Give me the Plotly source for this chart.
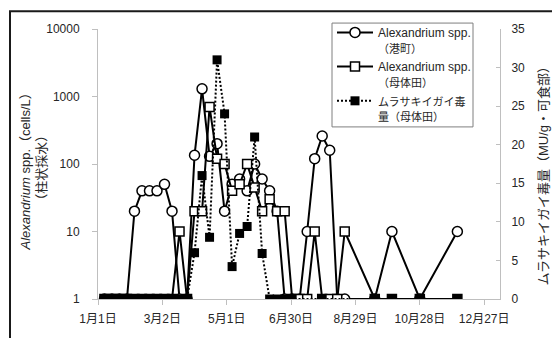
import plotly.graph_objects as go

# Alexandrium spp. cell density, 港町 (cells/L, 0 shown at the axis floor of 1)
minato_dates = ["2013-01-07", "2013-01-14", "2013-01-21", "2013-01-28", "2013-02-04",
                "2013-02-11", "2013-02-18", "2013-02-25", "2013-03-04", "2013-03-11",
                "2013-03-18", "2013-03-25", "2013-04-01", "2013-04-08", "2013-04-15",
                "2013-04-22", "2013-04-29", "2013-05-06", "2013-05-13", "2013-05-20",
                "2013-05-27", "2013-06-03", "2013-06-10", "2013-06-17", "2013-06-24",
                "2013-07-01", "2013-07-08", "2013-07-15", "2013-07-22", "2013-07-29",
                "2013-08-05", "2013-08-12", "2013-08-19", "2013-09-16", "2013-10-02",
                "2013-10-28", "2013-12-02"]
minato_cells = [1, 1, 1, 1, 20,
                40, 40, 40, 50, 20,
                1, 1, 135, 1300, 130,
                200, 20, 50, 60, 40,
                100, 60, 40, 20, 1,
                1, 1, 10, 120, 260,
                160, 1, 1, 1, 10,
                1, 10]

# Alexandrium spp. cell density, 母体田
motaita_dates = ["2013-01-07", "2013-01-14", "2013-01-21", "2013-01-28", "2013-02-04",
                 "2013-02-11", "2013-02-18", "2013-02-25", "2013-03-04", "2013-03-11",
                 "2013-03-18", "2013-03-25", "2013-04-01", "2013-04-08", "2013-04-15",
                 "2013-04-22", "2013-04-29", "2013-05-06", "2013-05-13", "2013-05-20",
                 "2013-05-27", "2013-06-03", "2013-06-10", "2013-06-17", "2013-06-24",
                 "2013-07-01", "2013-07-08", "2013-07-15", "2013-07-22", "2013-07-29",
                 "2013-08-05", "2013-08-12", "2013-08-19", "2013-09-16", "2013-10-02",
                 "2013-10-28", "2013-12-02"]
motaita_cells = [1, 1, 1, 1, 1,
                 1, 1, 1, 1, 1,
                 10, 1, 20, 20, 700,
                 120, 100, 40, 50, 100,
                 45, 20, 30, 20, 20,
                 1, 1, 1, 10, 1,
                 1, 1, 10, 1, 1,
                 1, 1]

# Mussel toxicity, 母体田 (MU/g edible part)
toxin_dates = ["2013-01-07", "2013-01-14", "2013-01-21", "2013-01-28", "2013-02-04",
               "2013-02-11", "2013-02-18", "2013-02-25", "2013-03-04", "2013-03-11",
               "2013-03-18", "2013-03-25", "2013-04-01", "2013-04-08", "2013-04-15",
               "2013-04-22", "2013-04-29", "2013-05-06", "2013-05-13", "2013-05-20",
               "2013-05-27", "2013-06-03", "2013-06-10", "2013-06-17", "2013-06-24",
               "2013-07-01", "2013-07-29", "2013-09-16", "2013-10-02", "2013-10-28",
               "2013-12-02"]
toxin_mu = [0, 0, 0, 0, 0,
            0, 0, 0, 0, 0,
            0, 0, 6, 16, 8,
            31, 24, 4.2, 8.5, 9.4,
            21, 5.9, 0, 0, 0,
            0, 0, 0, 0, 0,
            0]

tick_dates = ["2013-01-01", "2013-03-02", "2013-05-01", "2013-06-30",
              "2013-08-29", "2013-10-28", "2013-12-27"]
tick_labels = ["1月1日", "3月2日", "5月1日", "6月30日", "8月29日", "10月28日", "12月27日"]

cell_ticks = [1, 10, 100, 1000, 10000]
cell_tick_labels = ["1", "10", "100", "1000", "10000"]
toxin_ticks = [0, 5, 10, 15, 20, 25, 30, 35]

FONT = "Liberation Sans, Noto Sans CJK JP, sans-serif"
TXT = "#262626"
AXIS = "#BFBFBF"


def cjk(s):
    # slightly smaller Japanese glyphs inside the legend
    return '<span style="font-size:11px">' + s + "</span>"


fig = go.Figure()

fig.add_trace(go.Scatter(
    x=minato_dates, y=minato_cells, mode="lines+markers",
    name="Alexandrium spp.<br>" + cjk("（港町）"),
    line=dict(color="black", width=2),
    marker=dict(symbol="circle", size=10, color="white",
                line=dict(color="black", width=1.5)),
))
fig.add_trace(go.Scatter(
    x=motaita_dates, y=motaita_cells, mode="lines+markers",
    name="Alexandrium spp.<br>" + cjk("（母体田）"),
    line=dict(color="black", width=2),
    marker=dict(symbol="square", size=9, color="white",
                line=dict(color="black", width=1.5)),
))
fig.add_trace(go.Scatter(
    x=toxin_dates, y=toxin_mu, mode="lines+markers", yaxis="y2",
    name=cjk("ムラサキイガイ毒") + "<br>" + cjk("量（母体田）"),
    line=dict(color="black", width=2, dash="2px,2px"),
    marker=dict(symbol="square", size=9, color="black",
                line=dict(color="black", width=0)),
))

L, R, T, B = 98, 500, 29, 302
W, H = 552, 338
pw, ph = R - L, B - T


def px(xp):
    return (xp - L) / pw


def py(yp):
    return (B - yp) / ph


fig.update_layout(
    width=W, height=H,
    margin=dict(l=L, r=W - R, t=T, b=H - B, pad=0),
    paper_bgcolor="white", plot_bgcolor="white",
    font=dict(family=FONT, size=12, color=TXT),
    showlegend=True,
    legend=dict(
        x=px(332), y=py(18), xanchor="left", yanchor="top",
        bgcolor="rgba(0,0,0,0)", borderwidth=0,
        font=dict(family=FONT, size=12, color=TXT),
        itemwidth=36, valign="top", tracegroupgap=0,
    ),
    xaxis=dict(
        type="date",
        range=["2013-01-01", "2014-01-10 18:00"],
        tickvals=tick_dates, ticktext=tick_labels,
        showline=True, linecolor=AXIS, linewidth=1,
        ticks="outside", ticklen=5, tickcolor=AXIS,
        showgrid=False, zeroline=False,
        ticklabelstandoff=4,
        tickfont=dict(size=12, color=TXT),
    ),
    yaxis=dict(
        type="log", range=[0, 4],
        tickvals=cell_ticks, ticktext=cell_tick_labels,
        showline=True, linecolor=AXIS, linewidth=1,
        ticks="outside", ticklen=5, tickcolor=AXIS,
        showgrid=False, zeroline=False,
        ticklabelstandoff=10,
        tickfont=dict(size=12, color=TXT),
    ),
    yaxis2=dict(
        overlaying="y", side="right", range=[0, 35],
        tickvals=toxin_ticks,
        showline=True, linecolor=AXIS, linewidth=1,
        ticks="inside", ticklen=4, tickcolor=AXIS,
        showgrid=False, zeroline=False,
        ticklabelstandoff=8,
        tickfont=dict(size=12, color=TXT),
    ),
)

# legend box
fig.add_shape(
    type="rect", xref="paper", yref="paper",
    x0=px(332), y0=py(128), x1=px(473), y1=py(23),
    line=dict(color="#7F7F7F", width=1), fillcolor="white",
    layer="above",
)

# left axis title (two lines, genus name in italics)
fig.add_annotation(
    xref="paper", yref="paper", x=px(34), y=py(170),
    text="<i>Alexandrium</i> spp.（cells/L）<br>（柱状採水）",
    textangle=-90, showarrow=False, xanchor="center", yanchor="middle",
    font=dict(family=FONT, size=13, color=TXT),
)
# right axis title
fig.add_annotation(
    xref="paper", yref="paper", x=px(543), y=py(175),
    text="ムラサキイガイ毒量（MU/g・可食部）",
    textangle=-90, showarrow=False, xanchor="center", yanchor="middle",
    font=dict(family=FONT, size=13, color=TXT),
)

# chart-area frame
fig.add_shape(
    type="rect", xref="paper", yref="paper",
    x0=px(10), y0=py(350), x1=px(570), y1=py(11),
    line=dict(color="#1A1A1A", width=2), fillcolor="rgba(0,0,0,0)",
    layer="above",
)

fig.write_html("out.html")
